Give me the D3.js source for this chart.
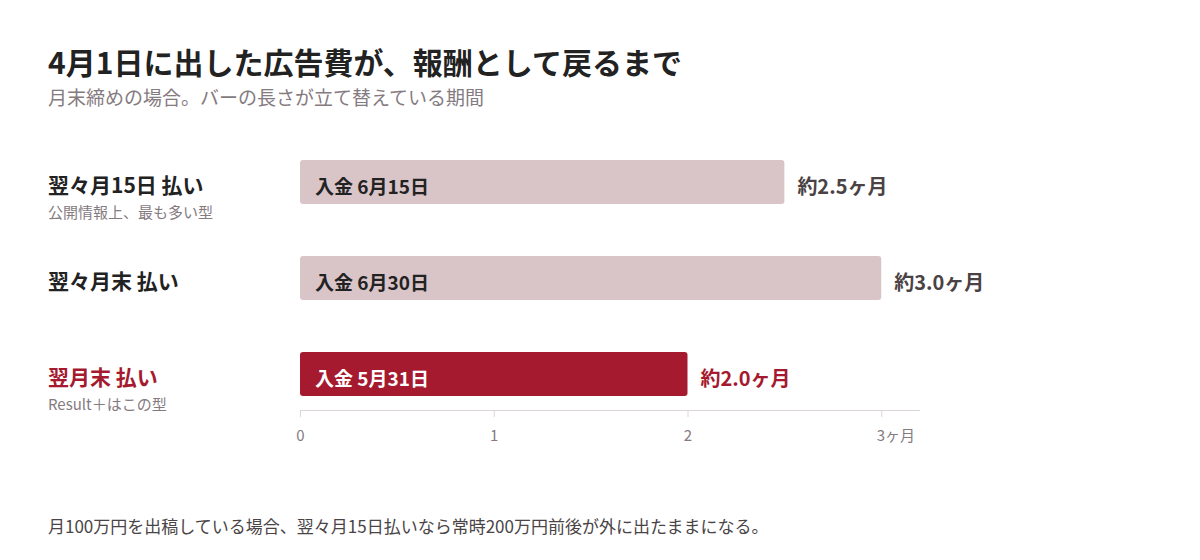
<!DOCTYPE html>
<html><head><meta charset="utf-8">
<script src="https://cdn.jsdelivr.net/npm/d3@7"></script>
<style>
html,body{margin:0;padding:0;background:#fff;}
svg{display:block;font-family:"Noto Sans CJK JP","Noto Sans",sans-serif;}
</style></head><body>
<svg id="c" width="1200" height="560"></svg>
<script>
const categories = ["翌々月15日 払い", "翌々月末 払い", "翌月末 払い"];
const notes = ["公開情報上、最も多い型", "", "Result＋はこの型"];
const months = [2.5, 3.0, 2.0];
const payDates = ["入金 6月15日", "入金 6月30日", "入金 5月31日"];
const valueLabels = ["約2.5ヶ月", "約3.0ヶ月", "約2.0ヶ月"];
const highlight = [false, false, true];
const tickValues = [0, 1, 2, 3];
const tickLabels = ["0", "1", "2", "3ヶ月"];

const svg = d3.select("#c");
const RED = "#a51a2e", PALE = "#d9c4c8", DARK = "#222222", GRAY = "#857b7f";

svg.append("text").attr("x", 48).attr("y", 74).attr("font-size", 30).attr("font-weight", 700)
  .attr("fill", DARK).text("4月1日に出した広告費が、報酬として戻るまで");
svg.append("text").attr("x", 48).attr("y", 105).attr("font-size", 19)
  .attr("fill", GRAY).text("月末締めの場合。バーの長さが立て替えている期間");

const x = d3.scaleLinear().domain([0, 3.2]).range([300, 920]);
const y = d3.scaleBand().domain(d3.range(categories.length)).range([140, 416])
  .paddingInner(52 / 96).paddingOuter(20 / 96);

const g = svg.append("g");
const rows = g.selectAll("g.row").data(categories).join("g").attr("class", "row");

rows.append("rect")
  .attr("x", x(0)).attr("y", (d, i) => y(i))
  .attr("width", (d, i) => x(months[i]) - x(0))
  .attr("height", y.bandwidth()).attr("rx", 3)
  .attr("fill", (d, i) => highlight[i] ? RED : PALE);

rows.append("text").attr("x", x(0) + 15).attr("y", (d, i) => y(i) + y.bandwidth() / 2 + 12)
  .attr("font-size", 19).attr("font-weight", 700)
  .attr("fill", (d, i) => highlight[i] ? "#fff" : DARK)
  .text((d, i) => payDates[i]);

rows.append("text").attr("x", (d, i) => x(months[i]) + 13).attr("y", (d, i) => y(i) + y.bandwidth() / 2 + 12)
  .attr("font-size", 20).attr("font-weight", 700)
  .attr("fill", (d, i) => highlight[i] ? RED : "#4a4244")
  .text((d, i) => valueLabels[i]);

rows.append("text").attr("x", 48).attr("y", (d, i) => y(i) + y.bandwidth() / 2 + 11)
  .attr("font-size", 21).attr("font-weight", 700)
  .attr("fill", (d, i) => highlight[i] ? RED : DARK)
  .text(d => d);

rows.append("text").attr("x", 48).attr("y", (d, i) => y(i) + y.bandwidth() / 2 + 36)
  .attr("font-size", 15).attr("fill", GRAY)
  .text((d, i) => notes[i]);

// axis
const axisY = 410;
const ax = svg.append("g").attr("transform", `translate(0,${axisY})`)
  .call(d3.axisBottom(x).tickValues(tickValues).tickSize(7).tickSizeOuter(0).tickFormat((d, i) => tickLabels[i]));
ax.select(".domain").attr("stroke", "#dcd6d8").attr("d", `M${x(0)},0.5H${x(3.2)}`);
ax.selectAll(".tick line").attr("stroke", "#dcd6d8");
ax.selectAll(".tick text").attr("font-size", 15).attr("fill", GRAY).attr("dy", null).attr("y", 31)
  .attr("font-family", "'Noto Sans CJK JP',sans-serif")
  .attr("text-anchor", (d, i) => i === tickLabels.length - 1 ? "start" : "middle")
  .attr("dx", (d, i) => i === tickLabels.length - 1 ? -5 : 0);

svg.append("text").attr("x", 48).attr("y", 533).attr("font-size", 17)
  .attr("fill", "#4a4446").text("月100万円を出稿している場合、翌々月15日払いなら常時200万円前後が外に出たままになる。");
</script>
</body></html>
